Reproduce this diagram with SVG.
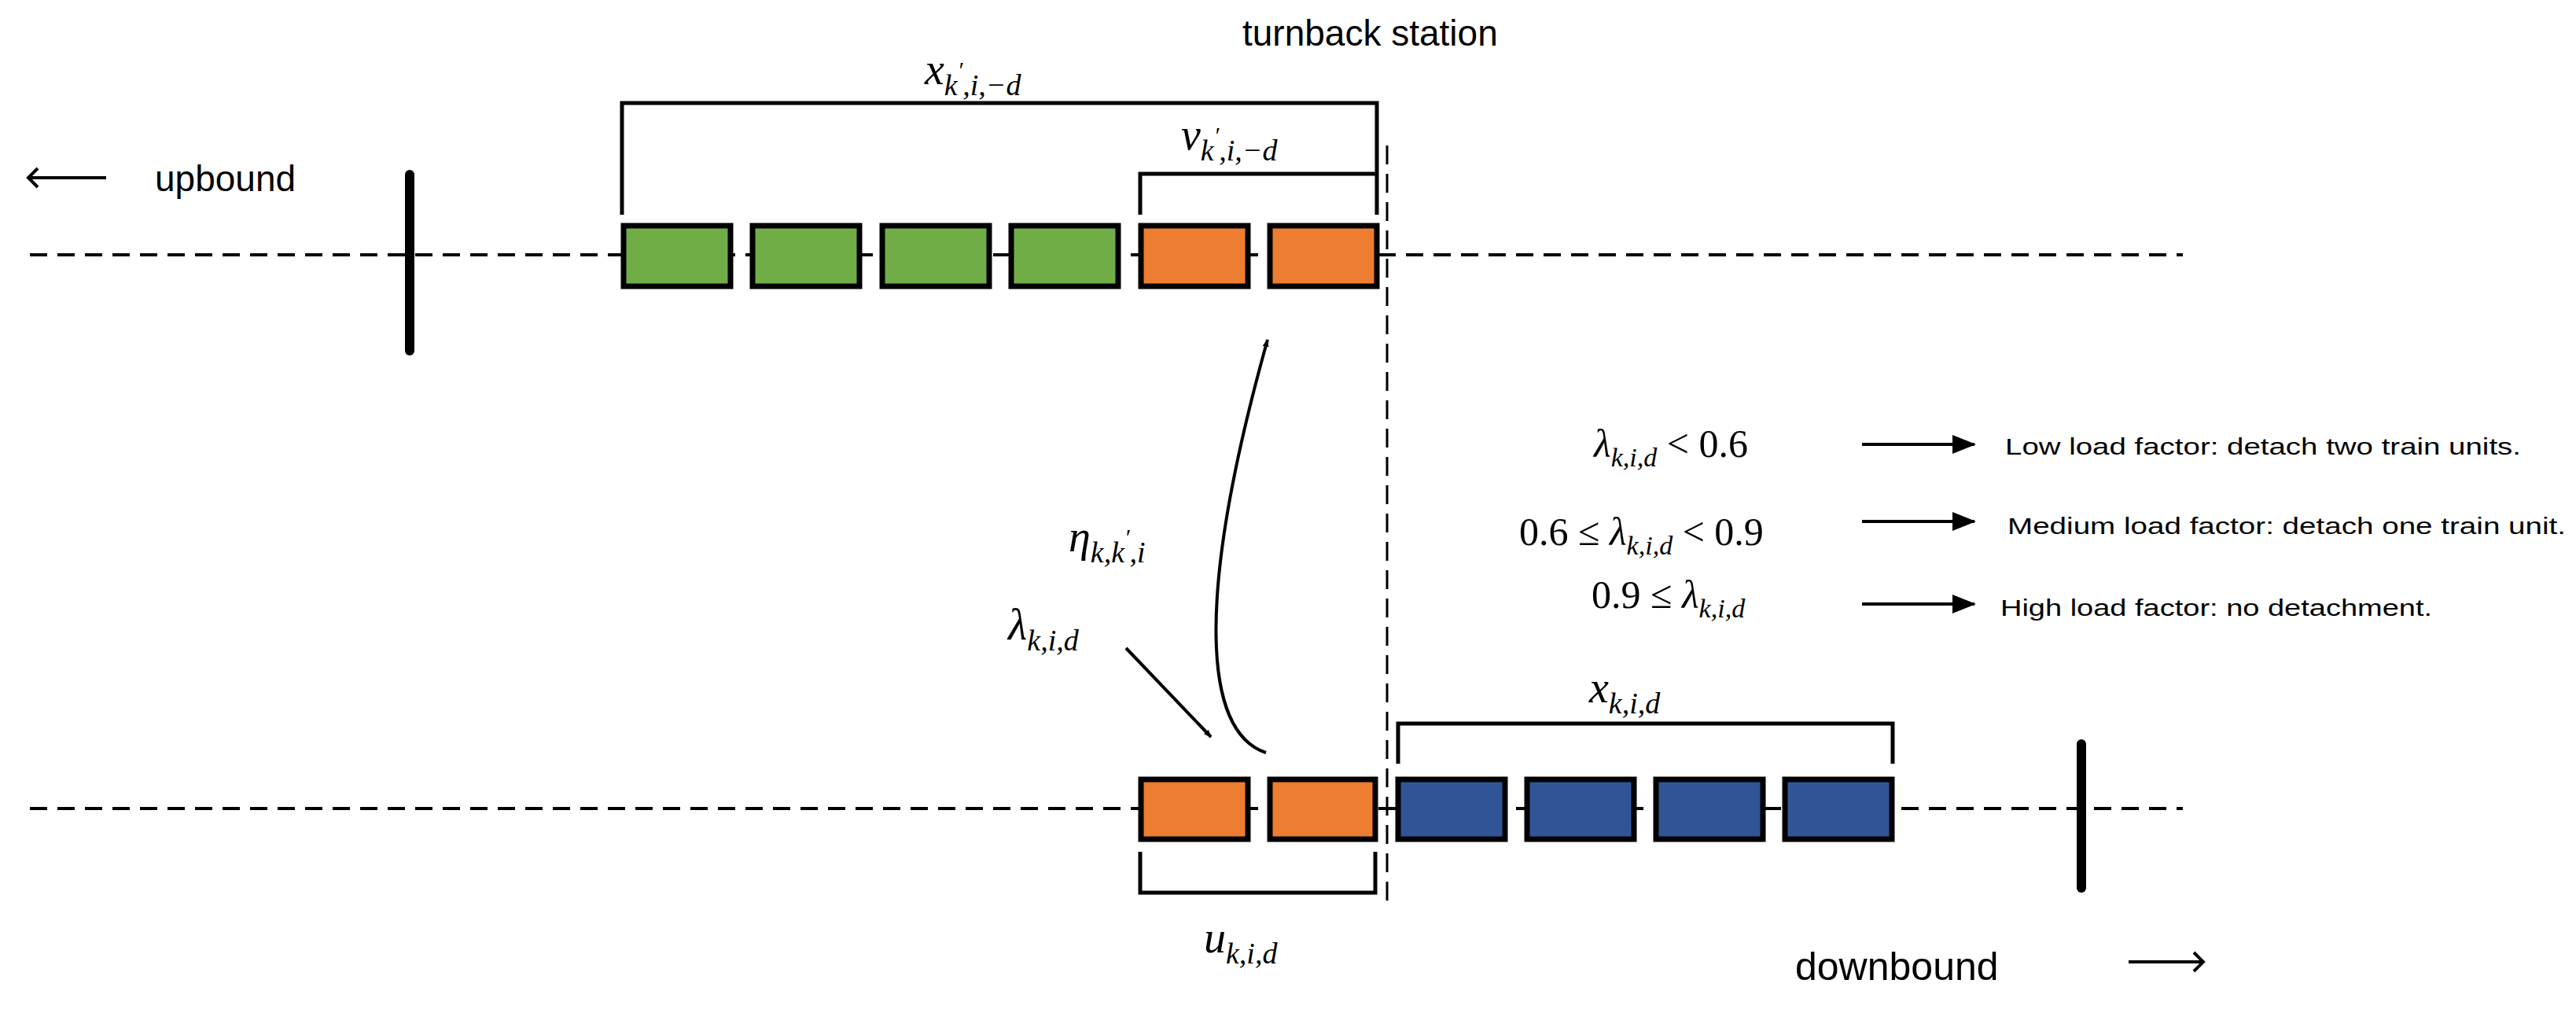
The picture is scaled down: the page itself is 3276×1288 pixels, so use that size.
<svg xmlns="http://www.w3.org/2000/svg" width="3276" height="1288" viewBox="0 0 3276 1288">
<defs>
<marker id="ah" markerWidth="10" markerHeight="8" refX="9" refY="4" orient="auto" markerUnits="userSpaceOnUse" viewBox="0 0 10 8"><path d="M0,0L10,4L0,8z" fill="#000"/></marker>
<marker id="ab" markerWidth="30" markerHeight="24" refX="28" refY="12" orient="auto" markerUnits="userSpaceOnUse"><path d="M0,0L30,12L0,24z" fill="#000"/></marker>
</defs>
<style>
.trk{stroke:#000;stroke-width:4;stroke-dasharray:22 13;fill:none}
.vd{stroke:#000;stroke-width:3;stroke-dasharray:24 12;fill:none}
.car{stroke:#000;stroke-width:7}
.g{fill:#70AD47}.o{fill:#ED7D31}.b{fill:#2F5597}
.br{stroke:#000;stroke-width:5;fill:none}
.post{stroke:#000;stroke-width:12;stroke-linecap:round}
.ln{stroke:#000;stroke-width:4;fill:none}
.t{font-family:"Liberation Sans",Arial,sans-serif;fill:#000}
.m{font-family:"Liberation Serif","Times New Roman",serif;font-style:italic;fill:#000}
.n{font-family:"Liberation Serif","Times New Roman",serif;fill:#000}
</style>
<g id="tracks">
<line class="trk" x1="38" y1="324" x2="2776" y2="324"/>
<line class="trk" x1="38" y1="1028" x2="2776" y2="1028"/>
<line class="vd" x1="1764" y1="185" x2="1764" y2="1150"/>
<line class="post" x1="521" y1="222" x2="521" y2="446"/>
<line class="post" x1="2647" y1="946" x2="2647" y2="1129"/>
</g>
<g id="upTrain">
<rect class="car g" x="793" y="287" width="136" height="77"/>
<rect class="car g" x="957" y="287" width="136" height="77"/>
<rect class="car g" x="1122" y="287" width="136" height="77"/>
<rect class="car g" x="1286" y="287" width="136" height="77"/>
<rect class="car o" x="1451" y="287" width="136" height="77"/>
<rect class="car o" x="1615" y="287" width="136" height="77"/>
</g>
<g id="downTrain">
<rect class="car o" x="1451" y="991" width="136" height="76"/>
<rect class="car o" x="1615" y="991" width="134" height="76"/>
<rect class="car b" x="1778" y="991" width="136" height="76"/>
<rect class="car b" x="1942" y="991" width="136" height="76"/>
<rect class="car b" x="2106" y="991" width="136" height="76"/>
<rect class="car b" x="2270" y="991" width="136" height="76"/>
</g>
<g id="brackets">
<path class="br" d="M791,273V131H1751V273"/>
<path class="br" d="M1450,273V221H1751"/>
<path class="br" d="M1778,971V920H2407V971"/>
<path class="br" d="M1450,1083V1135H1749V1083"/>
</g>
<g id="connectors">
<path class="ln" d="M1432,824L1540,937" marker-end="url(#ah)" stroke-width="4"/>
<path class="ln" d="M1610,957C1530,930 1520,760 1612,432" marker-end="url(#ah)"/>
<line class="ln" x1="2368" y1="565" x2="2511" y2="565" marker-end="url(#ab)"/>
<line class="ln" x1="2368" y1="663" x2="2511" y2="663" marker-end="url(#ab)"/>
<line class="ln" x1="2368" y1="768" x2="2511" y2="768" marker-end="url(#ab)"/>
<line class="ln" x1="36" y1="226" x2="135" y2="226" stroke-width="3"/>
<path class="ln" d="M48,214L36,226L48,238" stroke-width="3"/>
<line class="ln" x1="2707" y1="1223" x2="2802" y2="1223" stroke-width="3"/>
<path class="ln" d="M2790,1211L2802,1223L2790,1235" stroke-width="3"/>
</g>
<g id="labels">
<text class="t" x="1580" y="58" font-size="46">turnback station</text>
<text class="t" x="197" y="243" font-size="46">upbound</text>
<text class="t" x="2283" y="1246" font-size="50">downbound</text>
<text class="m" x="1176" y="107" font-size="56">x<tspan font-size="38" dy="14">k</tspan><tspan font-size="30" dy="-22">′</tspan><tspan font-size="38" dy="22">,i,−d</tspan></text>
<text class="m" x="1502" y="190" font-size="56">v<tspan font-size="38" dy="14">k</tspan><tspan font-size="30" dy="-22">′</tspan><tspan font-size="38" dy="22">,i,−d</tspan></text>
<text class="m" x="2021" y="893" font-size="56">x<tspan font-size="38" dy="14">k,i,d</tspan></text>
<text class="m" x="1531" y="1211" font-size="56">u<tspan font-size="38" dy="14">k,i,d</tspan></text>
<text class="m" x="1359" y="701" font-size="56">η<tspan font-size="38" dy="14">k,k</tspan><tspan font-size="30" dy="-22">′</tspan><tspan font-size="38" dy="22">,i</tspan></text>
<text class="m" x="1282" y="813" font-size="56">λ<tspan font-size="38" dy="14">k,i,d</tspan></text>
<text class="m" x="2027" y="581" font-size="50">λ<tspan font-size="34" dy="12">k,i,d</tspan><tspan class="n" font-style="normal" font-size="50" dy="-12"> &lt; 0.6</tspan></text>
<text class="n" x="1932" y="693" font-size="50">0.6 ≤ <tspan class="m">λ</tspan><tspan class="m" font-size="34" dy="12">k,i,d</tspan><tspan dy="-12"> &lt; 0.9</tspan></text>
<text class="n" x="2024" y="773" font-size="50">0.9 ≤ <tspan class="m">λ</tspan><tspan class="m" font-size="34" dy="12">k,i,d</tspan></text>
<text class="t" x="2550" y="578" font-size="30" textLength="656" lengthAdjust="spacingAndGlyphs">Low load factor: detach two train units.</text>
<text class="t" x="2553" y="679" font-size="30" textLength="710" lengthAdjust="spacingAndGlyphs">Medium load factor: detach one train unit.</text>
<text class="t" x="2544" y="783" font-size="30" textLength="549" lengthAdjust="spacingAndGlyphs">High load factor: no detachment.</text>
</g>
</svg>
